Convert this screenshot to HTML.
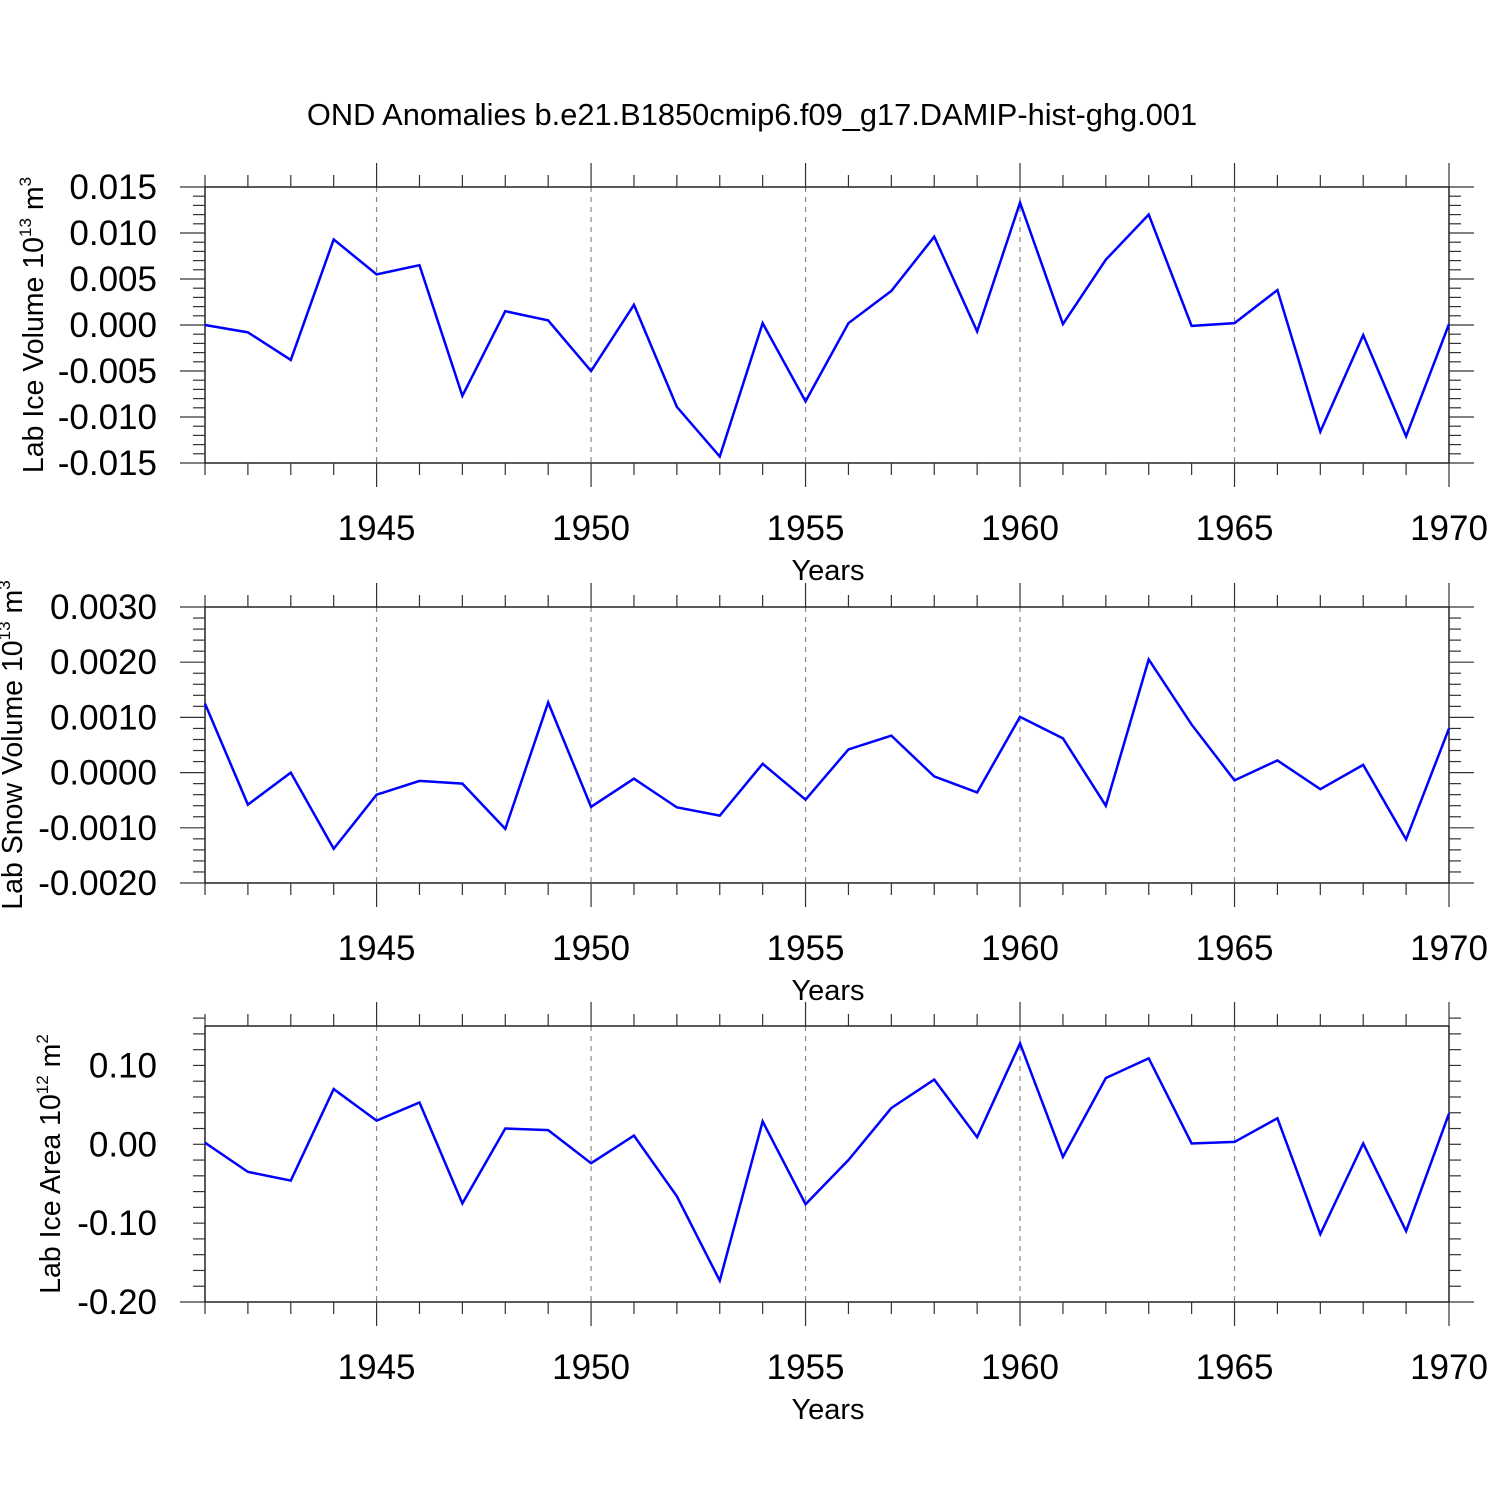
<!DOCTYPE html>
<html><head><meta charset="utf-8"><style>
body{margin:0;background:#fff}
svg{display:block;font-family:"Liberation Sans",sans-serif}
</style></head><body>
<svg id="chart" width="1500" height="1500" xmlns="http://www.w3.org/2000/svg">
<text x="752" y="125" font-size="30.8" text-anchor="middle">OND Anomalies b.e21.B1850cmip6.f09_g17.DAMIP-hist-ghg.001</text>
</svg>
<script>
const years = [1941,1942,1943,1944,1945,1946,1947,1948,1949,1950,1951,1952,1953,1954,1955,1956,1957,1958,1959,1960,1961,1962,1963,1964,1965,1966,1967,1968,1969,1970];
const iceVolume = [0,-0.0008,-0.0038,0.0093,0.0055,0.0065,-0.0077,0.0015,0.0005,-0.0050,0.0022,-0.0089,-0.0143,0.0002,-0.0083,0.0002,0.0037,0.0096,-0.0007,0.0133,0.0001,0.0071,0.0120,-0.0001,0.0002,0.0038,-0.0116,-0.0011,-0.0121,0.0001];
const snowVolume = [0.00125,-0.00058,0,-0.00138,-0.0004,-0.00015,-0.0002,-0.00102,0.00127,-0.00062,-0.00011,-0.00063,-0.00078,0.00016,-0.00049,0.00042,0.00067,-0.00007,-0.00036,0.00101,0.00062,-0.0006,0.00205,0.00087,-0.00014,0.00022,-0.0003,0.00014,-0.00121,0.0008];
const iceArea = [0.002,-0.035,-0.046,0.070,0.030,0.053,-0.075,0.020,0.018,-0.024,0.011,-0.066,-0.173,0.029,-0.076,-0.020,0.046,0.082,0.009,0.128,-0.016,0.084,0.109,0.001,0.003,0.033,-0.114,0.001,-0.110,0.039];
const xTickLabels = ["1945","1950","1955","1960","1965","1970"];
const ticks1 = ["0.015","0.010","0.005","0.000","-0.005","-0.010","-0.015"];
const ticks2 = ["0.0030","0.0020","0.0010","0.0000","-0.0010","-0.0020"];
const ticks3 = ["0.10","0.00","-0.10","-0.20"];

const svg=document.getElementById('chart');
const NS="http://www.w3.org/2000/svg";
function mk(tag,attrs,parent){const e=document.createElementNS(NS,tag);for(const k in attrs)e.setAttribute(k,attrs[k]);(parent||svg).appendChild(e);return e;}
const X0=205,X1=1449,H=276;
const xs=y=>X0+(y-1941)/(1970-1941)*(X1-X0);

function panel(id,top,ymin,ymax,minorStep,tickLabels,data,titleMain,titleExp,titleUnit,titleX){
  const g=mk('g',{});
  
  
  const ys=v=>top+(ymax-v)/(ymax-ymin)*H;
  const bot=top+H;
  for(let yr=1945;yr<1970;yr+=5){
    const l=mk('line',{x1:xs(yr),x2:xs(yr),y1:top,y2:bot,stroke:'#888','stroke-width':1.2,'stroke-dasharray':'5,5'},g);
    
    
  }
  const fr=mk('rect',{x:X0,y:top,width:X1-X0,height:H,fill:'none',stroke:'#000','stroke-width':1.3},g);
  
  
  for(let yr=1941;yr<=1970;yr++){
    const maj=yr%5===0; const L=maj?24:12; const x=xs(yr);
    mk('line',{x1:x,x2:x,y1:top,y2:top-L,stroke:'#333','stroke-width':1.2},g);
    mk('line',{x1:x,x2:x,y1:bot,y2:bot+L,stroke:'#333','stroke-width':1.2},g);
  }
  xTickLabels.forEach(s=>{
    const t=mk('text',{x:xs(+s),y:bot+77,'font-size':35,'text-anchor':'middle'},g);
    t.textContent=s;
    
    
  });
  const xt=mk('text',{x:828,y:bot+117,'font-size':29,'text-anchor':'middle'},g);
  xt.textContent='Years';
  
  
  const n=Math.round((ymax-ymin)/minorStep);
  const majStep=(ymax-ymin)/(tickLabels.length-1);
  for(let i=0;i<=n;i++){
    const v=ymin+i*minorStep;
    const r=(v-ymin)/majStep; const maj=Math.abs(r-Math.round(r))<1e-6;
    const L=maj?25:12; const y=ys(v);
    mk('line',{x1:X0,x2:X0-L,y1:y,y2:y,stroke:'#333','stroke-width':1.2},g);
    mk('line',{x1:X1,x2:X1+L,y1:y,y2:y,stroke:'#333','stroke-width':1.2},g);
  }
  tickLabels.forEach(s=>{
    const t=mk('text',{x:157,y:ys(parseFloat(s))+12,'font-size':35,'text-anchor':'end'},g);
    t.textContent=s;
    
    
  });
  const cy=top+H/2;
  const yt=mk('text',{x:0,y:0,'font-size':28.5,'text-anchor':'middle',transform:`translate(${titleX+10},${cy}) rotate(-90)`},g);
  
  
  const a=mk('tspan',{},yt);a.textContent=titleMain;
  const b=mk('tspan',{'font-size':17,dy:-12},yt);b.textContent=titleExp;
  const c=mk('tspan',{dy:12},yt);c.textContent=' '+titleUnit.split('^')[0];
  if(titleUnit.includes('^')){const d=mk('tspan',{'font-size':17,dy:-12},yt);d.textContent=titleUnit.split('^')[1];}
  const pts=data.map((v,i)=>xs(years[i])+','+ys(v)).join(' ');
  const pl=mk('polyline',{points:pts,fill:'none',stroke:'#0000ff','stroke-width':2.5,'stroke-linejoin':'miter'},g);
  
  
}
panel('ice-volume',187,-0.015,0.015,0.001,ticks1,iceVolume,'Lab Ice Volume 10','13','m^3',33);
panel('snow-volume',607,-0.002,0.003,0.0002,ticks2,snowVolume,'Lab Snow Volume 10','13','m^3',12);
panel('ice-area',1026,-0.2,0.15,0.02,ticks3,iceArea,'Lab Ice Area 10','12','m^2',50);
</script>
</body></html>
